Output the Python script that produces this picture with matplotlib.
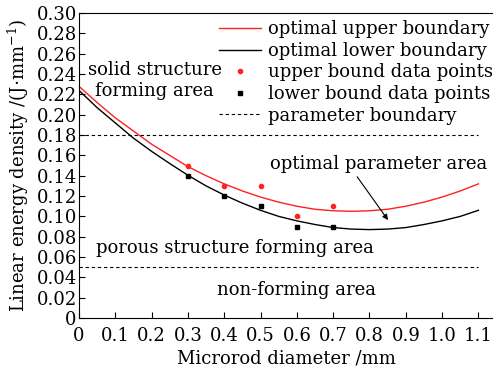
import numpy as np
import matplotlib.pyplot as plt

# fitted boundary curves, values every 0.05 mm
curve_x = [0.0, 0.05, 0.1, 0.15, 0.2, 0.25, 0.3, 0.35, 0.4, 0.45, 0.5, 0.55,
           0.6, 0.65, 0.7, 0.75, 0.8, 0.85, 0.9, 0.95, 1.0, 1.05, 1.1]
upper_fit = [0.228, 0.212, 0.197, 0.184, 0.171, 0.160, 0.149, 0.140, 0.132,
             0.125, 0.119, 0.114, 0.110, 0.107, 0.1055, 0.105, 0.1055, 0.107,
             0.110, 0.114, 0.119, 0.125, 0.132]
lower_fit = [0.224, 0.207, 0.192, 0.177, 0.164, 0.152, 0.1405, 0.130, 0.121,
             0.113, 0.106, 0.100, 0.0956, 0.092, 0.089, 0.0875, 0.087, 0.0875,
             0.089, 0.092, 0.0956, 0.100, 0.106]

# measured points
pts_x = [0.3, 0.4, 0.5, 0.6, 0.7]
upper_pts = [0.15, 0.13, 0.13, 0.10, 0.11]
lower_pts = [0.14, 0.12, 0.11, 0.09, 0.09]

# parameter boundaries
boundary_y = [0.18, 0.05]

xticks = [0, 0.1, 0.2, 0.3, 0.4, 0.5, 0.6, 0.7, 0.8, 0.9, 1.0, 1.1]
xticklabels = ['0', '0.1', '0.2', '0.3', '0.4', '0.5', '0.6', '0.7', '0.8',
               '0.9', '1.0', '1.1']
yticks = np.arange(0, 0.301, 0.02)

plt.rcParams['font.family'] = 'DejaVu Serif'
plt.rcParams['mathtext.fontset'] = 'dejavuserif'

fig = plt.figure(figsize=(4.93, 3.72), dpi=100)
ax = fig.add_axes([0.160, 0.145, 0.840, 0.820])

ax.plot(curve_x, upper_fit, color='#ff2020', lw=1.0, label='optimal upper boundary')
ax.plot(curve_x, lower_fit, color='black', lw=1.0, label='optimal lower boundary')
ax.plot(pts_x, upper_pts, 'o', color='#ff2020', ms=3, label='upper bound data points')
ax.plot(pts_x, lower_pts, 's', color='black', ms=3, label='lower bound data points')
for i, yb in enumerate(boundary_y):
    ax.plot([0, 1.1], [yb, yb], color='black', lw=0.8, ls=(0, (3, 2.5)),
            label='parameter boundary' if i == 0 else None)

fs = 13
ax.text(0.209, 0.244, 'solid structure', ha='center', va='center', fontsize=fs)
ax.text(0.209, 0.223, 'forming area', ha='center', va='center', fontsize=fs)
ax.text(0.824, 0.152, 'optimal parameter area', ha='center', va='center', fontsize=fs)
ax.text(0.43, 0.069, 'porous structure forming area', ha='center', va='center', fontsize=fs)
ax.text(0.60, 0.0275, 'non-forming area', ha='center', va='center', fontsize=fs)
ax.annotate('', xy=(0.851, 0.0964), xytext=(0.766, 0.139),
            arrowprops=dict(arrowstyle='-|>', color='black', lw=0.8,
                            mutation_scale=8, shrinkA=0, shrinkB=0))

ax.legend(loc='upper right', bbox_to_anchor=(1.018, 1.0), frameon=False,
          fontsize=fs, handlelength=2.3, handletextpad=0.4, labelspacing=0.2,
          borderaxespad=0.3, borderpad=0.1)

ax.set_xlim(0, 1.14)
ax.set_ylim(0, 0.30)
ax.set_xticks(xticks)
ax.set_xticklabels(xticklabels)
ax.set_yticks(yticks)
ax.set_yticklabels(['0'] + [f'{v:.2f}' for v in yticks[1:]])
ax.tick_params(direction='in', length=4, width=0.8, labelsize=13)
ax.tick_params(axis='x', pad=6.5)
ax.tick_params(axis='y', pad=1.5)
ax.spines['right'].set_visible(False)
ax.set_xlabel('Microrod diameter /mm', fontsize=13, labelpad=3)
ax.set_ylabel(r'Linear energy density /(J$\cdot$mm$^{-1}$)', fontsize=13, labelpad=4)

fig.savefig('out.png', dpi=100)
